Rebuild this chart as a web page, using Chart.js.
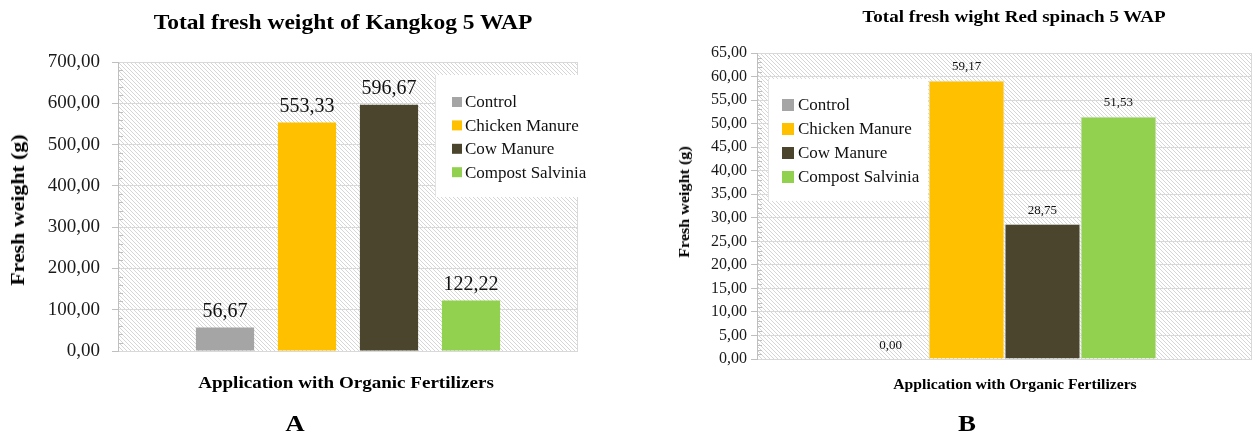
<!DOCTYPE html>
<html>
<head>
<meta charset="utf-8">
<script src="https://cdn.jsdelivr.net/npm/chart.js@4.4.1/dist/chart.umd.min.js"></script>
<style>
  body { margin: 0; background: #fff; }
  #wrap { position: relative; width: 1255px; height: 437px; overflow: hidden; font-family: "Liberation Serif", "Times New Roman", serif; color: #000; }
  canvas { position: absolute; top: 0; }
  .txt { position: absolute; transform: translate(-50%, -50%) scaleX(1.12); white-space: nowrap; font-weight: bold; }
  .vert { transform: translate(-50%, -50%) rotate(-90deg) scaleX(1.15); }
  .preload { position: absolute; left: -999px; top: 0; font-weight: normal; }
</style>
</head>
<body>
<div id="wrap">
  <span class="preload">0123456789, Control Chicken</span>
  <canvas id="chartA" width="627" height="437" style="left:0;width:627px;height:437px"></canvas>
  <canvas id="chartB" width="628" height="437" style="left:627px;width:628px;height:437px"></canvas>
  <div class="txt" style="left:343px;top:22px;font-size:21px">Total fresh weight of Kangkog 5 WAP</div>
  <div class="txt vert" style="left:18px;top:210px;font-size:19px">Fresh weight (g)</div>
  <div class="txt" style="left:346px;top:383px;font-size:17px">Application with Organic Fertilizers</div>
  <div class="txt" style="left:295px;top:423px;font-size:24px">A</div>
  <div class="txt" style="left:1014px;top:17px;font-size:17px">Total fresh wight Red spinach 5 WAP</div>
  <div class="txt vert" style="left:685px;top:202px;font-size:14px">Fresh weight (g)</div>
  <div class="txt" style="left:1015px;top:385px;font-size:14px">Application with Organic Fertilizers</div>
  <div class="txt" style="left:967px;top:423px;font-size:24px">B</div>
</div>
<script>
// treatments (one bar each)
const treatments = ["Control", "Chicken Manure", "Cow Manure", "Compost Salvinia"];
const colors = ["#a5a5a5", "#ffc000", "#4a452c", "#92d050"];

// Kangkog 5 WAP
const kangkogWeight = [56.67, 553.33, 596.67, 122.22];
const kangkogTicks = { min: 0, max: 700, step: 100, minor: 20 };

// Red spinach 5 WAP
const spinachWeight = [0.00, 59.17, 28.75, 51.53];
const spinachTicks = { min: 0, max: 65, step: 5, minor: 1 };

const serif = "'Liberation Serif', 'Times New Roman', serif";
const fmt = v => v.toFixed(2).replace(".", ",");

// diagonal hatch used behind the plot area
function makeHatch(ctx, size) {
  const c = document.createElement("canvas");
  c.width = size; c.height = size;
  const g = c.getContext("2d");
  g.fillStyle = "#ffffff";
  g.fillRect(0, 0, size, size);
  g.fillStyle = "#d6d6d6";
  for (let i = 0; i < size; i++) g.fillRect(i, i, 1, 1);
  return ctx.createPattern(c, "repeat");
}

const plotDecor = {
  id: "plotDecor",
  beforeDraw(chart, args, opts) {
    const { ctx, chartArea: a } = chart;
    ctx.save();
    ctx.fillStyle = makeHatch(ctx, opts.hatch);
    ctx.fillRect(a.left, a.top, a.right - a.left, a.bottom - a.top);
    ctx.strokeStyle = "#d9d9d9";
    ctx.lineWidth = 1;
    ctx.beginPath();
    ctx.moveTo(a.left, a.top + 0.5);
    ctx.lineTo(a.right - 0.5, a.top + 0.5);
    ctx.lineTo(a.right - 0.5, a.bottom);
    ctx.stroke();
    ctx.restore();
  },
  beforeDatasetsDraw(chart, args, opts) {
    // minor ticks on the inside of the y axis
    const { ctx, chartArea: a } = chart;
    const y = chart.scales.y;
    const t = opts.ticks;
    ctx.save();
    ctx.strokeStyle = "#bfbfbf";
    ctx.lineWidth = 1;
    ctx.beginPath();
    for (let v = t.min; v <= t.max + 1e-9; v += t.minor) {
      if (Math.abs(v / t.step - Math.round(v / t.step)) < 1e-6) continue;
      const py = Math.round(y.getPixelForValue(v)) + 0.5;
      ctx.moveTo(a.left, py);
      ctx.lineTo(a.left + 5, py);
    }
    ctx.stroke();

    // legend box inside the plot
    const L = opts.legend;
    const bx = a.left + L.x, by = a.top + L.y;
    ctx.fillStyle = "#ffffff";
    ctx.fillRect(bx, by, L.w, L.h);
    ctx.strokeStyle = "#e3e3e3";
    ctx.beginPath();
    ctx.moveTo(bx + 0.5, by);
    ctx.lineTo(bx + 0.5, by + L.h);
    ctx.stroke();
    ctx.font = L.font + "px " + serif;
    ctx.textBaseline = "middle";
    ctx.textAlign = "left";
    chart.data.datasets.forEach((ds, i) => {
      const cy = a.top + L.itemY + i * L.step;
      ctx.fillStyle = ds.backgroundColor;
      ctx.fillRect(a.left + L.markX, cy - L.mark / 2, L.mark, L.mark);
      ctx.fillStyle = "#111";
      ctx.fillText(ds.label, a.left + L.textX, cy + 1);
    });
    ctx.restore();
  },
  afterDatasetsDraw(chart, args, opts) {
    const { ctx } = chart;
    ctx.save();
    ctx.font = opts.labelFont + "px " + serif;
    ctx.fillStyle = "#111";
    ctx.textAlign = "center";
    ctx.textBaseline = "alphabetic";
    chart.data.datasets.forEach((ds, i) => {
      const bar = chart.getDatasetMeta(i).data[0];
      ctx.fillText(fmt(ds.data[0]), bar.x, bar.y - opts.labelGap);
    });
    ctx.restore();
  }
};

function buildChart(id, values, ticks, o) {
  return new Chart(document.getElementById(id), {
    type: "bar",
    data: {
      labels: [""],
      datasets: treatments.map((name, i) => ({
        label: name,
        data: [values[i]],
        backgroundColor: colors[i],
        borderColor: o.border,
        borderWidth: o.borderWidth,
        categoryPercentage: o.cat,
        barPercentage: o.bar
      }))
    },
    options: {
      responsive: false,
      animation: false,
      layout: { padding: o.padding },
      plugins: {
        legend: { display: false },
        tooltip: { enabled: false },
        plotDecor: {
          hatch: o.hatch,
          ticks: ticks,
          legend: o.legend,
          labelFont: o.labelFont,
          labelGap: o.labelGap
        }
      },
      scales: {
        x: { display: false },
        y: {
          min: ticks.min,
          max: ticks.max,
          afterFit: s => { s.width = o.axisWidth; },
          ticks: {
            stepSize: ticks.step,
            padding: o.tickPad,
            color: "#1a1a1a",
            font: { family: serif, size: o.tickFont },
            callback: v => fmt(v)
          },
          grid: { color: "#d9d9d9", tickLength: o.tickLen, tickColor: "#bfbfbf" },
          border: { color: "#bfbfbf" }
        }
      }
    },
    plugins: [plotDecor]
  });
}

const charts = [];
charts.push(buildChart("chartA", kangkogWeight, kangkogTicks, {
  padding: { left: 0, right: 49, top: 62, bottom: 86 },
  axisWidth: 118, tickPad: 12, tickLen: 6, tickFont: 19,
  cat: 0.713, bar: 0.71, border: "#ffffff", borderWidth: 0,
  hatch: 4, labelFont: 20, labelGap: 11,
  legend: { x: 317, y: 13, w: 143, h: 122, itemY: 40, step: 23.4, markX: 334, mark: 10, textX: 347, font: 17 }
}));

charts.push(buildChart("chartB", spinachWeight, spinachTicks, {
  padding: { left: 0, right: 3, top: 53, bottom: 78 },
  axisWidth: 130, tickPad: 4, tickLen: 6, tickFont: 16,
  cat: 0.614, bar: 1, border: "#e6e6e6", borderWidth: 1,
  hatch: 4, labelFont: 13, labelGap: 10,
  legend: { x: 11, y: 26, w: 160, h: 122, itemY: 52, step: 24, markX: 25, mark: 12, textX: 41, font: 17 }
}));

// redraw once the serif face is ready so canvas text does not fall back
document.fonts.load("17px 'Liberation Serif'").then(() => charts.forEach(c => c.update()));
</script>
</body>
</html>
